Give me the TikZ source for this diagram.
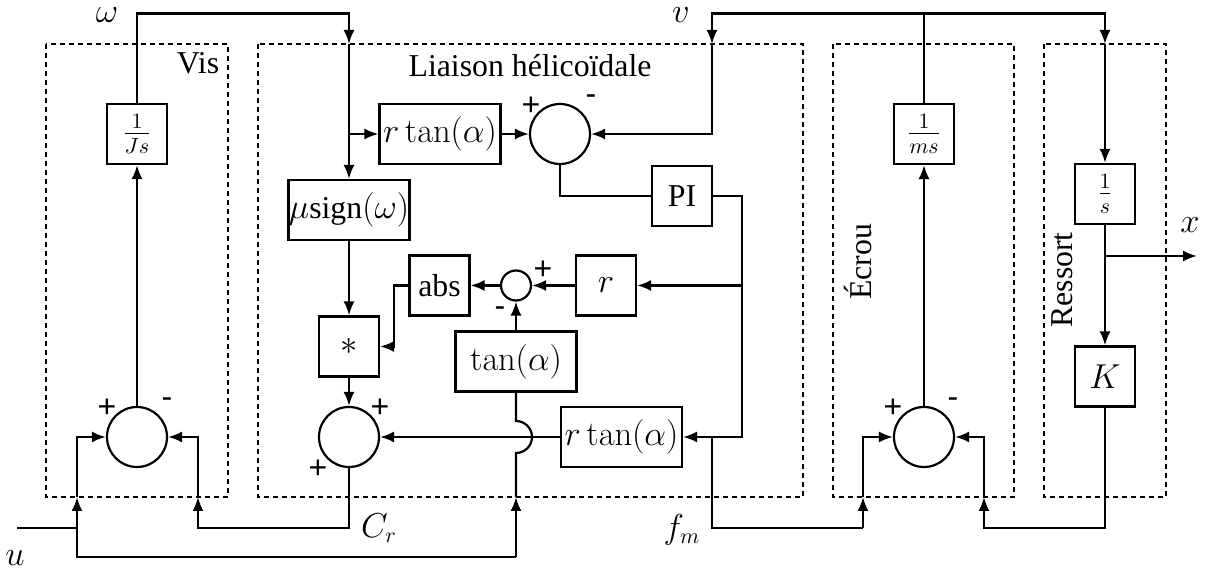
\documentclass[tikz,border=0pt]{standalone}
\usepackage[no-math]{fontspec}
\setmainfont{Liberation Serif}
\newfontfamily\signfont{Liberation Sans}
\usetikzlibrary{arrows.meta}
\begin{document}
\begin{tikzpicture}[x=0.5pt,y=-0.5pt, line width=1.1pt,
  font=\fontsize{15.9}{19}\selectfont,
  blk/.style={draw, minimum width=30pt, minimum height=30pt, inner sep=0pt},
  wblk/.style={blk, minimum width=60.5pt},
  sumc/.style={draw, circle, minimum size=30pt, inner sep=0pt},
  smallsum/.style={draw, circle, minimum size=15pt, inner sep=0pt},
  grp/.style={draw, dash pattern=on 2.5pt off 2pt, line width=1pt},
  sig/.style={font=\signfont\fontsize{16}{16}\selectfont, inner sep=0pt},
  lbl/.style={inner sep=0pt},
  >={Latex[length=7pt,width=5.5pt]}]
\useasboundingbox (0,0) rectangle (1212,572);

% groups
\draw[grp] (46,44) rectangle (228,497);
\draw[grp] (258,44) rectangle (803,497);
\draw[grp] (833,44) rectangle (1014,497);
\draw[grp] (1044,44) rectangle (1166,497);

\node[lbl] (visl) at (198,63) {Vis};
\node[lbl] (lial) at (530,66) {Liaison hélicoïdale};
\node[lbl, rotate=90] (ecrl) at (858,262) {Écrou};
\node[lbl, rotate=90] (resl) at (1062,280) {Ressort};

% blocks
\node[blk] (Js) at (137,134) {$\frac{1}{Js}$};
\node[wblk] (rt1) at (440,134) {$r\tan(\alpha)$};
\node[wblk] (mus) at (349,210) {$\mu$sign$(\omega)$};
\node[sumc] (S1) at (560,134) {};
\node[blk] (PI) at (682,196) {PI};
\node[blk] (abs) at (439.5,285.5) {abs};
\node[smallsum] (S2) at (516,285.5) {};
\node[blk] (r) at (606,285.5) {$r$};
\node[blk] (star) at (349,346.5) {$*$};
\node[wblk] (tan) at (516,361.5) {$\tan(\alpha)$};
\node[sumc] (S3) at (349,437) {};
\node[wblk] (rt2) at (621.5,437) {$r\tan(\alpha)$};
\node[sumc] (SV) at (137,437) {};
\node[blk] (ms) at (924,134) {$\frac{1}{ms}$};
\node[sumc] (SE) at (924,437) {};
\node[blk] (s) at (1105,194) {$\frac{1}{s}$};
\node[blk] (K) at (1105,376.5) {$K$};

% signs
\node[sig] at (531,106) {+};
\node[sig] at (591,100) {-};
\node[sig] at (543,270) {+};
\node[sig] at (500,312) {-};
\node[sig] at (380,408) {+};
\node[sig] at (318,469) {+};
\node[sig] at (107,408) {+};
\node[sig] at (167,403) {-};
\node[sig] at (893,408) {+};
\node[sig] at (953,403) {-};

% signal labels
\node[lbl] (wl) at (107,15) {$\omega$};
\node[lbl] (vl) at (681,15) {$v$};
\node[lbl] (xl) at (1190,225) {$x$};
\node[lbl] (ul) at (15,558) {$u$};
\node[lbl] (crl) at (379,528) {$C_r$};
\node[lbl] (fml) at (682,530) {$f_m$};

% coordinates
\coordinate (wTL) at (137,13.5);
\coordinate (wTR) at (349,13.5);
\coordinate (wIn) at (349,44);
\coordinate (vL) at (712,13.5);
\coordinate (vR) at (1105,13.5);
\coordinate (vIn1) at (712,44);
\coordinate (vIn2) at (1105,44);
\coordinate (bus) at (742,0);
\coordinate (absL) at (394,0);
\coordinate (uj) at (516,557);
\coordinate (ujIn) at (516,497);
\coordinate (cr1) at (198,528);
\coordinate (cr2) at (198,497);
\coordinate (u0) at (17,528);
\coordinate (u1) at (77,528);
\coordinate (u2) at (77,497);
\coordinate (u3) at (77,557);
\coordinate (f1) at (712,528);
\coordinate (f2) at (863,528);
\coordinate (f3) at (863,497);
\coordinate (k1) at (984,528);
\coordinate (k2) at (984,497);
\coordinate (xo) at (1197,256);

% connectors
\draw[->] (SV.north) -- (Js.south);
\draw[->] (Js.north) -- (wTL) -- (wTR) -- (wIn);
\draw[->] (wIn) -- (mus.north);
\draw[->] (rt1.west -| mus.north) -- (rt1.west);
\draw[->] (rt1.east) -- (S1.west);
\draw (ms.north) -- (ms.north |- vL);
\draw[->] (ms.north |- vL) -- (vL) -- (vIn1);
\draw[->] (vIn1) |- (S1.east);
\draw[->] (ms.north |- vL) -- (vR) -- (vIn2);
\draw[->] (vIn2) -- (s.north);
\draw (S1.south) |- (PI.west);
\draw[->] (PI.east) -| (bus |- rt2.east) -- (rt2.east);
\draw[->] (bus |- r.east) -- (r.east);
\draw[->] (r.west) -- (S2.east);
\draw[->] (S2.west) -- (abs.east);
\draw[->] (abs.west) -| (absL |- star.east) -- (star.east);
\draw[->] (tan.north) -- (S2.south);
\draw[->] (mus.south) -- (star.north);
\draw[->] (star.south) -- (S3.north);
\draw[->] (rt2.west) -- (S3.east);
\draw[->] (uj) -- (ujIn);
\draw (ujIn) -- (516,453) arc[start angle=-90,end angle=90,radius=8pt] -- (tan.south);
\draw[->] (S3.south) |- (cr1) -- (cr2);
\draw[->] (cr2) |- (SV.east);
\draw (u0) -- (u1);
\draw[->] (u1) -- (u2);
\draw[->] (u2) |- (SV.west);
\draw (u1) -- (u3) -- (uj);
\draw (rt2.east -| f1) -- (f1) -- (f2);
\draw[->] (f2) -- (f3);
\draw[->] (f3) |- (SE.west);
\draw[->] (SE.north) -- (ms.south);
\draw[->] (K.south) |- (k1) -- (k2);
\draw[->] (k2) |- (SE.east);
\draw[->] (s.south) -- (K.north);
\draw[->] (s.south |- xo) -- (xo);
\end{tikzpicture}
\end{document}
